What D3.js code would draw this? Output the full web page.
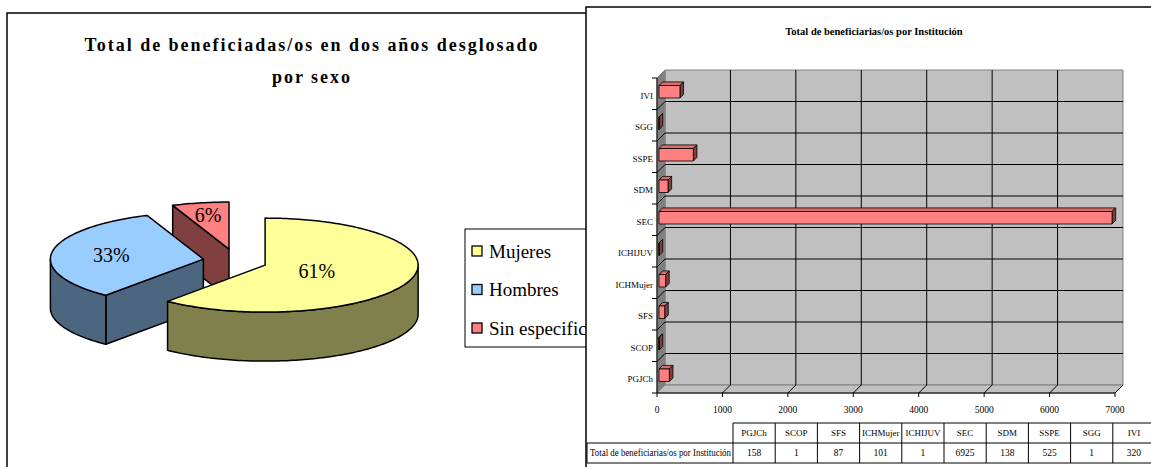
<!DOCTYPE html>
<html>
<head>
<meta charset="utf-8">
<script src="https://cdn.jsdelivr.net/npm/d3@7"></script>
<style>
  body { margin: 0; background: #fff; }
  svg { display: block; }
</style>
</head>
<body>
<div id="svg-container"></div>
<script>
////////////////////////////////////////////////////////////////////
////////////////////////////  Data  ////////////////////////////////
const pieTitle = ["Total de beneficiadas/os en dos años desglosado", "por sexo"];
const sexCategories = ["Mujeres", "Hombres", "Sin especificar"];
const sexPercent = [61, 33, 6];

const barTitle = "Total de beneficiarias/os por Institución";
const rowLabel = "Total de beneficiarias/os por Institución";
const institutions = ["PGJCh", "SCOP", "SFS", "ICHMujer", "ICHIJUV", "SEC", "SDM", "SSPE", "SGG", "IVI"];
const beneficiaries = [158, 1, 87, 101, 1, 6925, 138, 525, 1, 320];
const valueTicks = [0, 1000, 2000, 3000, 4000, 5000, 6000, 7000];

////////////////////////////////////////////////////////////////////
////////////////////////////  Init  ////////////////////////////////
const width = 1151, height = 467;
const serif = "'Liberation Serif', 'Times New Roman', Times, serif";
const svg = d3.select("#svg-container").append("svg")
  .attr("width", width).attr("height", height)
  .attr("font-family", serif);

const pathOf = (pts) => "M" + pts.map((p) => p[0].toFixed(2) + "," + p[1].toFixed(2)).join("L") + "Z";

////////////////////////////////////////////////////////////////////
////////////////////////////  Pie (left)  //////////////////////////
const topColor = ["#FFFF99", "#99CCFF", "#FF8080"];
const sideColor = ["#80804C", "#4C6680", "#804040"];
const pc = { cx: 235, cy: 261, r: 153, ry: 47, h: 49, explode: 32, explodeY: 0.38 };
const ky = pc.ry / pc.r;

const left = svg.append("g");
left.append("rect")
  .attr("x", 7).attr("y", 13).attr("width", 700).attr("height", 520)
  .attr("fill", "#fff").attr("stroke", "#000").attr("stroke-width", 1.5);

left.selectAll(".pie-title")
  .data(pieTitle)
  .enter()
  .append("text")
  .attr("class", "pie-title")
  .attr("x", 311)
  .attr("y", (d, i) => 51 + i * 32)
  .attr("text-anchor", "middle")
  .attr("font-family", serif)
  .attr("font-size", 18)
  .attr("font-weight", "bold")
  .attr("textLength", (d, i) => (i === 0 ? 453 : 78))
  .attr("lengthAdjust", "spacing")
  .text((d) => d);

const arcs = d3.pie().sort(null).value((d) => d)(sexPercent);
arcs.forEach((a, i) => {
  const mid = (a.startAngle + a.endAngle) / 2;
  a.index = i;
  a.c = [pc.cx + pc.explode * Math.sin(mid), pc.cy - pc.explode * pc.explodeY * Math.cos(mid)];
  a.mid = mid;
});

const rim = (c, a, dy = 0) => [c[0] + pc.r * Math.sin(a), c[1] - pc.ry * Math.cos(a) + dy];
const arcPts = (c, a0, a1, dy = 0) => {
  const n = Math.max(2, Math.ceil(Math.abs(a1 - a0) / 0.02));
  return d3.range(n + 1).map((k) => rim(c, a0 + ((a1 - a0) * k) / n, dy));
};

const pieG = left.append("g")
  .attr("stroke", "#000").attr("stroke-width", 1.5).attr("stroke-linejoin", "round");

// back slices first
arcs.slice().sort((a, b) => a.c[1] - b.c[1]).forEach((a) => {
  const c = a.c, a0 = a.startAngle, a1 = a.endAngle, h = pc.h;
  const g = pieG.append("g");
  const radial = (ang) => {
    const p = rim(c, ang);
    g.append("path")
      .attr("d", pathOf([c, p, [p[0], p[1] + h], [c[0], c[1] + h]]))
      .attr("fill", sideColor[a.index]);
  };
  if (Math.sin(a0) < -1e-6) radial(a0);
  if (Math.sin(a1) > 1e-6) radial(a1);
  const lo = Math.max(a0, Math.PI / 2), hi = Math.min(a1, (3 * Math.PI) / 2);
  if (hi > lo) {
    g.append("path")
      .attr("d", pathOf(arcPts(c, lo, hi).concat(arcPts(c, hi, lo, h))))
      .attr("fill", sideColor[a.index]);
  }
  g.append("path")
    .attr("d", pathOf([c].concat(arcPts(c, a0, a1))))
    .attr("fill", topColor[a.index]);
});

// percent labels at (slightly pushed) sector centroid
const labelDist = (a) => {
  const al = (a.endAngle - a.startAngle) / 2;
  return ((2 * pc.r * Math.sin(al)) / (3 * al)) * 1.1;
};
left.selectAll(".pct")
  .data(arcs)
  .enter()
  .append("text")
  .attr("class", "pct")
  .attr("x", (a) => a.c[0] + labelDist(a) * Math.sin(a.mid))
  .attr("y", (a) => a.c[1] - labelDist(a) * ky * Math.cos(a.mid))
  .attr("dy", "0.35em")
  .attr("text-anchor", "middle")
  .attr("font-family", serif)
  .attr("font-size", 20)
  .text((a) => a.data + "%");

// legend
const legend = left.append("g").attr("transform", "translate(465,229)");
legend.append("rect")
  .attr("width", 200).attr("height", 118)
  .attr("fill", "#fff").attr("stroke", "#000").attr("stroke-width", 1);
const items = legend.selectAll(".item")
  .data(sexCategories)
  .enter()
  .append("g")
  .attr("transform", (d, i) => `translate(7,${22 + i * 38.5})`);
items.append("rect")
  .attr("x", 0).attr("y", -5).attr("width", 10).attr("height", 10)
  .attr("fill", (d, i) => topColor[i]).attr("stroke", "#000").attr("stroke-width", 1.3);
items.append("text")
  .attr("x", 17).attr("dy", "0.35em")
  .attr("font-family", serif)
  .attr("font-size", 19)
  .text((d) => d);

////////////////////////////////////////////////////////////////////
////////////////////////////  Bars (right)  ////////////////////////
const right = svg.append("g").attr("font-family", serif);
right.append("rect")
  .attr("x", 586).attr("y", 7).attr("width", 600).attr("height", 520)
  .attr("fill", "#fff").attr("stroke", "#000").attr("stroke-width", 1.5);

right.append("text")
  .attr("x", 874).attr("y", 35)
  .attr("text-anchor", "middle")
  .attr("font-size", 10.5)
  .attr("font-weight", "bold")
  .text(barTitle);

const depth = { dx: 8, dy: -8 };
const x = d3.scaleLinear().domain([0, 7000]).range([657, 1115]);
const y = d3.scaleBand().domain(institutions.slice().reverse()).range([78, 393]);
const [y0, y1] = y.range();
const xMin = x(0), xMax = x(7000);
const bounds = y.domain().map((d) => y(d)).concat([y1]);

// walls
right.append("path")
  .attr("d", pathOf([[xMin + depth.dx, y0 + depth.dy], [xMax + depth.dx, y0 + depth.dy],
    [xMax + depth.dx, y1 + depth.dy], [xMin + depth.dx, y1 + depth.dy]]))
  .attr("fill", "#C0C0C0").attr("stroke", "#808080");
right.append("path")
  .attr("d", pathOf([[xMin, y0], [xMin + depth.dx, y0 + depth.dy],
    [xMin + depth.dx, y1 + depth.dy], [xMin, y1]]))
  .attr("fill", "#808080").attr("stroke", "#808080");
right.append("path")
  .attr("d", pathOf([[xMin, y1], [xMin + depth.dx, y1 + depth.dy],
    [xMax + depth.dx, y1 + depth.dy], [xMax, y1]]))
  .attr("fill", "#C0C0C0").attr("stroke", "#808080");

// gridlines
const grid = right.append("g").attr("stroke", "#000").attr("stroke-width", 1).attr("fill", "none");
grid.selectAll(".vgrid")
  .data(valueTicks.slice(1, -1))
  .enter()
  .append("path")
  .attr("d", (t) => `M${x(t)},${y1}L${x(t) + depth.dx},${y1 + depth.dy}L${x(t) + depth.dx},${y0 + depth.dy}`);
grid.append("path")
  .attr("d", `M${xMax},${y1}L${xMax + depth.dx},${y1 + depth.dy}`);
grid.selectAll(".hgrid")
  .data(bounds.slice(1, -1))
  .enter()
  .append("path")
  .attr("d", (b) => `M${xMin},${b}L${xMin + depth.dx},${b + depth.dy}L${xMax + depth.dx},${b + depth.dy}`);

// axes
const axes = right.append("g").attr("stroke", "#000").attr("stroke-width", 1).attr("fill", "none");
axes.append("path").attr("d", `M${xMin},${y0}L${xMin},${y1}L${xMax},${y1}`);
axes.selectAll(".ytick")
  .data(bounds)
  .enter()
  .append("path")
  .attr("d", (b) => `M${xMin - 5},${b}L${xMin},${b}`);
axes.selectAll(".xtick")
  .data(valueTicks)
  .enter()
  .append("path")
  .attr("d", (t) => `M${x(t)},${y1}L${x(t)},${y1 + 4}`);

right.selectAll(".xlabel")
  .data(valueTicks)
  .enter()
  .append("text")
  .attr("x", (t) => x(t))
  .attr("y", 413)
  .attr("text-anchor", "middle")
  .attr("font-size", 9.5)
  .text((t) => t);

right.selectAll(".ylabel")
  .data(y.domain())
  .enter()
  .append("text")
  .attr("x", xMin - 4)
  .attr("y", (d) => y(d) + y.bandwidth() / 2 + 2)
  .attr("dy", "0.35em")
  .attr("text-anchor", "end")
  .attr("font-size", 9)
  .text((d) => d);

// 3D bars
const bar = { front: 0.25, depth: 0.45, h: 12.5 };
const bars = right.append("g").attr("stroke", "#000").attr("stroke-width", 0.8).attr("stroke-linejoin", "round");
institutions.forEach((name, i) => {
  const ox = depth.dx * bar.front, oy = depth.dy * bar.front;
  const bx = depth.dx * bar.depth, by = depth.dy * bar.depth;
  const xa = x(0) + ox, xb = x(beneficiaries[i]) + ox;
  const ya = y(name) + y.bandwidth() / 2 + oy - bar.h / 2, yb = ya + bar.h;
  const g = bars.append("g");
  g.append("path").attr("d", pathOf([[xa, ya], [xa + bx, ya + by], [xb + bx, ya + by], [xb, ya]])).attr("fill", "#D96C6C");
  g.append("path").attr("d", pathOf([[xb, ya], [xb + bx, ya + by], [xb + bx, yb + by], [xb, yb]])).attr("fill", "#804040");
  g.append("path").attr("d", pathOf([[xa, ya], [xb, ya], [xb, yb], [xa, yb]])).attr("fill", "#FF8080");
});

// data table
const col = d3.scaleBand().domain(institutions).range([733, 1155]);
const rowTop = 423, rowH = 20;
const table = right.append("g");
const lines = table.append("g").attr("stroke", "#000").attr("stroke-width", 1).attr("fill", "none");
lines.append("path").attr("d", `M${col.range()[0]},${rowTop}H${col.range()[1]}`);
lines.append("path").attr("d", `M587,${rowTop + rowH}H${col.range()[1]}`);
lines.append("path").attr("d", `M587,${rowTop + 2 * rowH}H${col.range()[1]}`);
lines.append("path").attr("d", `M587,${rowTop + rowH}V${rowTop + 2 * rowH}`);
lines.selectAll(".vcol")
  .data(institutions)
  .enter()
  .append("path")
  .attr("d", (d) => `M${col(d)},${rowTop}V${rowTop + 2 * rowH}`);

table.selectAll(".head")
  .data(institutions)
  .enter()
  .append("text")
  .attr("x", (d) => col(d) + col.bandwidth() / 2)
  .attr("y", rowTop + rowH / 2)
  .attr("dy", "0.35em")
  .attr("text-anchor", "middle")
  .attr("font-size", 9)
  .text((d) => d);
table.selectAll(".val")
  .data(beneficiaries)
  .enter()
  .append("text")
  .attr("x", (d, i) => col(institutions[i]) + col.bandwidth() / 2)
  .attr("y", rowTop + rowH * 1.5)
  .attr("dy", "0.35em")
  .attr("text-anchor", "middle")
  .attr("font-size", 9.5)
  .text((d) => d);
table.append("text")
  .attr("x", 590)
  .attr("y", rowTop + rowH * 1.5)
  .attr("dy", "0.35em")
  .attr("font-size", 9.5)
  .attr("textLength", 141)
  .attr("lengthAdjust", "spacingAndGlyphs")
  .text(rowLabel);
</script>
</body>
</html>
